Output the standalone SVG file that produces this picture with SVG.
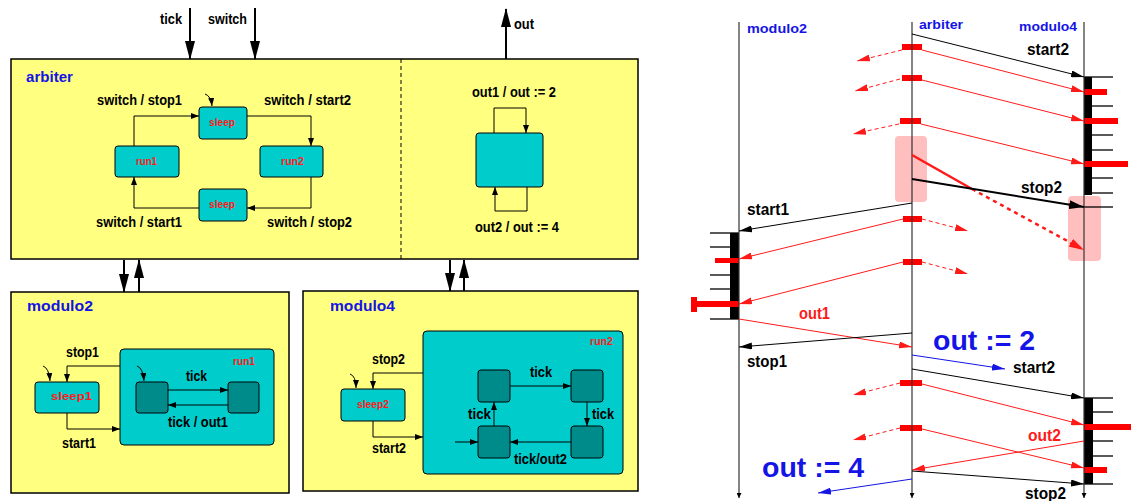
<svg xmlns="http://www.w3.org/2000/svg" width="1131" height="501" viewBox="0 0 1131 501">
<style>
text{font-family:"Liberation Sans",Arial,Helvetica,sans-serif;font-weight:bold;}
.t{font-size:14px;fill:#000}
.tb{font-size:14px;fill:#1414e6}
.ts{font-size:10px;fill:#ff1a1a}
.q{font-size:16px;fill:#000}
.qr{font-size:16px;fill:#ff1a1a}
.qb{font-size:28px;fill:#1414e6}
.box{fill:#ffff80;stroke:#000;stroke-width:1.5}
.st{fill:#00cccc;stroke:#000;stroke-width:1}
.in{fill:#008b8b;stroke:#000;stroke-width:1}
.tr{fill:none;stroke:#000;stroke-width:1}
.thick{fill:none;stroke:#000;stroke-width:2}
.ll{stroke:#333;stroke-width:1.2}
.m{stroke:#000;stroke-width:1}
.mr{stroke:#ff1a1a;stroke-width:1}
.mrd{stroke:#ff1a1a;stroke-width:1;stroke-dasharray:4 3}
.mb{stroke:#1414e6;stroke-width:1}
.tk{stroke:#000;stroke-width:1.3}
.rb{fill:#ff0000}
.pink{fill:#ffbfbf}
</style>
<defs>
<marker id="a" markerUnits="userSpaceOnUse" markerWidth="8" markerHeight="6" refX="8" refY="3" orient="auto"><path d="M0,0 L8,3 L0,6z" fill="#000"/></marker>
<marker id="big" markerUnits="userSpaceOnUse" markerWidth="19" markerHeight="10" refX="18" refY="5" orient="auto"><path d="M0,0 L19,5 L0,10z" fill="#000"/></marker>
<marker id="sk" markerUnits="userSpaceOnUse" markerWidth="13" markerHeight="7" refX="13" refY="3.5" orient="auto"><path d="M0,0 L13,3.5 L0,7z" fill="#000"/></marker>
<marker id="sr" markerUnits="userSpaceOnUse" markerWidth="13" markerHeight="7" refX="13" refY="3.5" orient="auto"><path d="M0,0 L13,3.5 L0,7z" fill="#ff1a1a"/></marker>
<marker id="sbl" markerUnits="userSpaceOnUse" markerWidth="13" markerHeight="7" refX="13" refY="3.5" orient="auto"><path d="M0,0 L13,3.5 L0,7z" fill="#1414e6"/></marker>
<marker id="sk2" markerUnits="userSpaceOnUse" markerWidth="15" markerHeight="9" refX="15" refY="4.5" orient="auto"><path d="M0,0 L15,4.5 L0,9z" fill="#000"/></marker>
<marker id="sr2" markerUnits="userSpaceOnUse" markerWidth="15" markerHeight="9" refX="15" refY="4.5" orient="auto"><path d="M0,0 L15,4.5 L0,9z" fill="#ff1a1a"/></marker>
<marker id="le" markerUnits="userSpaceOnUse" markerWidth="5" markerHeight="5" refX="5" refY="2.5" orient="auto"><path d="M0,0 L5,2.5 L0,5z" fill="#000"/></marker>
</defs>

<!-- ===== Statechart part ===== -->
<g id="arbiter">
<rect class="box" x="11" y="59" width="627" height="200"/>
<line x1="401" y1="59" x2="401" y2="259" stroke="#000" stroke-width="1" stroke-dasharray="4 3"/>
<text class="tb" x="26" y="82" textLength="47" lengthAdjust="spacingAndGlyphs">arbiter</text>
<g id="arb-sleep-top"><rect class="st" x="199" y="107" width="48" height="32" rx="3"/><text class="ts" x="209" y="126" textLength="26" lengthAdjust="spacingAndGlyphs">sleep</text></g>
<g id="arb-run1"><rect class="st" x="115" y="146" width="64" height="31" rx="3"/><text class="ts" x="136" y="165" textLength="21" lengthAdjust="spacingAndGlyphs">run1</text></g>
<g id="arb-run2"><rect class="st" x="260" y="146" width="63" height="31" rx="3"/><text class="ts" x="281" y="165" textLength="23" lengthAdjust="spacingAndGlyphs">run2</text></g>
<g id="arb-sleep-bottom"><rect class="st" x="199" y="189" width="48" height="32" rx="3"/><text class="ts" x="209" y="208" textLength="26" lengthAdjust="spacingAndGlyphs">sleep</text></g>
<g id="arb-out"><rect class="st" x="476" y="133" width="67" height="54" rx="3"/></g>
</g>

<g id="modulo2">
<rect class="box" x="11" y="292" width="278" height="201"/>
<text class="tb" x="27" y="311" textLength="66" lengthAdjust="spacingAndGlyphs">modulo2</text>
<g id="m2-run1"><rect class="st" x="120" y="349" width="154" height="96" rx="4"/><text class="ts" x="233" y="365" textLength="22" lengthAdjust="spacingAndGlyphs">run1</text></g>
<g id="m2-sleep1"><rect class="st" x="35" y="382" width="64" height="31" rx="3"/><text class="ts" x="51" y="400" textLength="41" lengthAdjust="spacingAndGlyphs">sleep1</text></g>
<g id="m2-a"><rect class="in" x="136" y="382" width="32" height="31" rx="3"/></g>
<g id="m2-b"><rect class="in" x="228" y="382" width="31" height="31" rx="3"/></g>
</g>

<g id="modulo4">
<rect class="box" x="303" y="291" width="335" height="200"/>
<text class="tb" x="330" y="311" textLength="65" lengthAdjust="spacingAndGlyphs">modulo4</text>
<g id="m4-run2"><rect class="st" x="423" y="331" width="200" height="143" rx="4"/><text class="ts" x="590" y="345" textLength="23" lengthAdjust="spacingAndGlyphs">run2</text></g>
<g id="m4-sleep2"><rect class="st" x="341" y="389" width="64" height="32" rx="3"/><text class="ts" x="357" y="408" textLength="32" lengthAdjust="spacingAndGlyphs">sleep2</text></g>
<g id="m4-tl"><rect class="in" x="478" y="370" width="32" height="32" rx="3"/></g>
<g id="m4-tr"><rect class="in" x="571" y="370" width="32" height="32" rx="3"/></g>
<g id="m4-bl"><rect class="in" x="478" y="426" width="32" height="32" rx="3"/></g>
<g id="m4-br"><rect class="in" x="571" y="426" width="32" height="32" rx="3"/></g>
</g>

<g id="connectors">
<!-- inputs / outputs -->
<line class="thick" x1="190" y1="8" x2="190" y2="59" marker-end="url(#big)"/>
<line class="thick" x1="255" y1="8" x2="255" y2="59" marker-end="url(#big)"/>
<line class="thick" x1="506" y1="59" x2="506" y2="9" marker-end="url(#big)"/>
<text class="t" x="160" y="24" textLength="22" lengthAdjust="spacingAndGlyphs">tick</text>
<text class="t" x="208" y="24" textLength="39" lengthAdjust="spacingAndGlyphs">switch</text>
<text class="t" x="514" y="29" textLength="20" lengthAdjust="spacingAndGlyphs">out</text>
<!-- arbiter <-> modules -->
<line class="thick" x1="124" y1="260" x2="124" y2="292" marker-end="url(#big)"/>
<line class="thick" x1="139" y1="292" x2="139" y2="260" marker-end="url(#big)"/>
<line class="thick" x1="450" y1="260" x2="450" y2="291" marker-end="url(#big)"/>
<line class="thick" x1="464" y1="291" x2="464" y2="260" marker-end="url(#big)"/>
<!-- arbiter transitions -->
<path class="tr" d="M205,94 Q211,96 212,106" marker-end="url(#a)"/>
<path class="tr" d="M134,146 V116 H199" marker-end="url(#a)"/>
<path class="tr" d="M247,116 H311 V146" marker-end="url(#a)"/>
<path class="tr" d="M311,177 V208 H247" marker-end="url(#a)"/>
<path class="tr" d="M199,208 H134 V177" marker-end="url(#a)"/>
<text class="t" x="97" y="105" textLength="85" lengthAdjust="spacingAndGlyphs">switch / stop1</text>
<text class="t" x="264" y="105" textLength="87" lengthAdjust="spacingAndGlyphs">switch / start2</text>
<text class="t" x="96" y="227" textLength="86" lengthAdjust="spacingAndGlyphs">switch / start1</text>
<text class="t" x="267" y="227" textLength="85" lengthAdjust="spacingAndGlyphs">switch / stop2</text>
<path class="tr" d="M494,133 V108 H526 V133" marker-end="url(#a)"/>
<path class="tr" d="M527,187 V211 H495 V187" marker-end="url(#a)"/>
<text class="t" x="472" y="97" textLength="84" lengthAdjust="spacingAndGlyphs">out1 / out := 2</text>
<text class="t" x="475" y="232" textLength="84" lengthAdjust="spacingAndGlyphs">out2 / out := 4</text>
<!-- modulo2 transitions -->
<path class="tr" d="M43,366 Q49,368 50,381" marker-end="url(#a)"/>
<path class="tr" d="M137,366 Q143,368 144,381" marker-end="url(#a)"/>
<path class="tr" d="M120,366 H67 V382" marker-end="url(#a)"/>
<path class="tr" d="M67,413 V429 H120" marker-end="url(#a)"/>
<line class="tr" x1="168" y1="390" x2="228" y2="390" marker-end="url(#a)"/>
<line class="tr" x1="228" y1="405" x2="168" y2="405" marker-end="url(#a)"/>
<text class="t" x="66" y="357" textLength="33" lengthAdjust="spacingAndGlyphs">stop1</text>
<text class="t" x="62" y="448" textLength="34" lengthAdjust="spacingAndGlyphs">start1</text>
<text class="t" x="186" y="381" textLength="21" lengthAdjust="spacingAndGlyphs">tick</text>
<text class="t" x="168" y="427" textLength="60" lengthAdjust="spacingAndGlyphs">tick / out1</text>
<!-- modulo4 transitions -->
<path class="tr" d="M350,374 Q356,376 356,388" marker-end="url(#a)"/>
<path class="tr" d="M423,373 H373 V389" marker-end="url(#a)"/>
<path class="tr" d="M373,421 V437 H423" marker-end="url(#a)"/>
<line class="tr" x1="510" y1="386" x2="571" y2="386" marker-end="url(#a)"/>
<line class="tr" x1="587" y1="402" x2="587" y2="426" marker-end="url(#a)"/>
<line class="tr" x1="571" y1="442" x2="510" y2="442" marker-end="url(#a)"/>
<line class="tr" x1="494" y1="426" x2="494" y2="402" marker-end="url(#a)"/>
<line class="tr" x1="455" y1="442" x2="478" y2="442" marker-end="url(#a)"/>
<text class="t" x="372" y="364" textLength="33" lengthAdjust="spacingAndGlyphs">stop2</text>
<text class="t" x="372" y="453" textLength="34" lengthAdjust="spacingAndGlyphs">start2</text>
<text class="t" x="530" y="377" textLength="22" lengthAdjust="spacingAndGlyphs">tick</text>
<text class="t" x="592" y="419" textLength="22" lengthAdjust="spacingAndGlyphs">tick</text>
<text class="t" x="468" y="419" textLength="23" lengthAdjust="spacingAndGlyphs">tick</text>
<text class="t" x="514" y="464" textLength="53" lengthAdjust="spacingAndGlyphs">tick/out2</text>
</g>

<!-- ===== Sequence part ===== -->
<g id="seq-highlights">
<rect class="pink" x="895" y="136" width="32" height="66" rx="4"/>
<rect class="pink" x="1068" y="196" width="33" height="65" rx="4"/>
</g>

<g id="seq-activations">
<line class="tk" x1="1084" y1="77" x2="1113" y2="77"/>
<line class="tk" x1="1084" y1="106" x2="1113" y2="106"/>
<line class="tk" x1="1084" y1="135" x2="1113" y2="135"/>
<line class="tk" x1="1084" y1="150" x2="1113" y2="150"/>
<line class="tk" x1="1084" y1="178" x2="1113" y2="178"/>
<line class="tk" x1="1084" y1="193" x2="1113" y2="193"/>
<line class="tk" x1="1084" y1="207" x2="1113" y2="207"/>
<rect x="1084" y="77" width="8" height="118" fill="#000"/>
<rect class="rb" x="1084" y="89" width="23" height="6"/>
<rect class="rb" x="1084" y="118" width="34" height="6"/>
<rect class="rb" x="1084" y="161" width="44" height="6"/>

<line class="tk" x1="710" y1="233" x2="739" y2="233"/>
<line class="tk" x1="710" y1="247" x2="739" y2="247"/>
<line class="tk" x1="710" y1="275" x2="739" y2="275"/>
<line class="tk" x1="710" y1="289" x2="739" y2="289"/>
<line class="tk" x1="710" y1="319" x2="739" y2="319"/>
<rect x="730" y="233" width="9" height="86" fill="#000"/>
<rect class="rb" x="715" y="258" width="24" height="5"/>
<rect class="rb" x="692" y="301" width="47" height="6"/>
<rect class="rb" x="691" y="297" width="6" height="15"/>

<line class="tk" x1="1084" y1="398" x2="1113" y2="398"/>
<line class="tk" x1="1084" y1="412" x2="1113" y2="412"/>
<line class="tk" x1="1084" y1="441" x2="1113" y2="441"/>
<line class="tk" x1="1084" y1="456" x2="1113" y2="456"/>
<line class="tk" x1="1084" y1="484" x2="1113" y2="484"/>
<rect x="1084" y="398" width="9" height="86" fill="#000"/>
<rect class="rb" x="1084" y="424" width="47" height="6"/>
<rect class="rb" x="1084" y="467" width="23" height="6"/>

<rect class="rb" x="902" y="44" width="20" height="6"/>
<rect class="rb" x="902" y="75" width="20" height="6"/>
<rect class="rb" x="900" y="118" width="21" height="6"/>
<rect class="rb" x="903" y="216" width="19" height="6"/>
<rect class="rb" x="903" y="259" width="19" height="6"/>
<rect class="rb" x="900" y="380" width="22" height="6"/>
<rect class="rb" x="900" y="425" width="22" height="6"/>
</g>

<g id="seq-lifelines">
<line class="ll" x1="739" y1="22" x2="739" y2="498" marker-end="url(#le)"/>
<line class="ll" x1="912" y1="22" x2="912" y2="498" marker-end="url(#le)"/>
<line class="ll" x1="1084" y1="22" x2="1084" y2="498" marker-end="url(#le)"/>
<text class="tb" style="font-size:13px" x="747" y="33" textLength="60" lengthAdjust="spacingAndGlyphs">modulo2</text>
<text class="tb" style="font-size:13px" x="919" y="29" textLength="44" lengthAdjust="spacingAndGlyphs">arbiter</text>
<text class="tb" style="font-size:13px" x="1019" y="31" textLength="58" lengthAdjust="spacingAndGlyphs">modulo4</text>
</g>

<g id="seq-messages">
<line class="m" x1="912" y1="34" x2="1084" y2="77" marker-end="url(#sk)"/>
<text class="q" x="1027" y="55" textLength="42" lengthAdjust="spacingAndGlyphs">start2</text>
<line class="mr" x1="922" y1="50" x2="1084" y2="92" marker-end="url(#sr)"/>
<line class="mr" x1="922" y1="80" x2="1084" y2="121" marker-end="url(#sr)"/>
<line class="mr" x1="921" y1="124" x2="1084" y2="164" marker-end="url(#sr)"/>
<line class="mrd" x1="902" y1="50" x2="857" y2="61" marker-end="url(#sr)"/>
<line class="mrd" x1="900" y1="79" x2="855" y2="91" marker-end="url(#sr)"/>
<line class="mrd" x1="899" y1="124" x2="853" y2="134" marker-end="url(#sr)"/>

<line x1="912" y1="155" x2="972" y2="189" stroke="#ff1a1a" stroke-width="2.5"/>
<line x1="972" y1="189" x2="1084" y2="250" stroke="#ff1a1a" stroke-width="2.5" stroke-dasharray="4 4" marker-end="url(#sr2)"/>
<line x1="912" y1="179" x2="1084" y2="207" stroke="#000" stroke-width="2" marker-end="url(#sk2)"/>
<text class="q" x="1021" y="193" textLength="41" lengthAdjust="spacingAndGlyphs">stop2</text>

<line class="m" x1="912" y1="203" x2="739" y2="231" marker-end="url(#sk)"/>
<text class="q" x="747" y="215" textLength="42" lengthAdjust="spacingAndGlyphs">start1</text>
<line class="mr" x1="903" y1="219" x2="739" y2="259" marker-end="url(#sr)"/>
<line class="mr" x1="903" y1="262" x2="739" y2="304" marker-end="url(#sr)"/>
<line class="mrd" x1="922" y1="219" x2="968" y2="231" marker-end="url(#sr)"/>
<line class="mrd" x1="922" y1="262" x2="968" y2="274" marker-end="url(#sr)"/>

<line class="mr" x1="739" y1="319" x2="912" y2="347" marker-end="url(#sr)"/>
<text class="qr" x="799" y="319" textLength="31" lengthAdjust="spacingAndGlyphs">out1</text>
<line class="m" x1="912" y1="333" x2="739" y2="347" marker-end="url(#sk)"/>
<text class="q" x="747" y="367" textLength="40" lengthAdjust="spacingAndGlyphs">stop1</text>
<text class="qb" x="933" y="350" textLength="102" lengthAdjust="spacingAndGlyphs">out := 2</text>
<line class="mb" x1="912" y1="355" x2="1005" y2="369" marker-end="url(#sbl)"/>
<text class="q" x="1013" y="373" textLength="42" lengthAdjust="spacingAndGlyphs">start2</text>

<line class="m" x1="912" y1="369" x2="1084" y2="398" marker-end="url(#sk)"/>
<line class="mr" x1="922" y1="384" x2="1084" y2="425" marker-end="url(#sr)"/>
<line class="mr" x1="922" y1="429" x2="1084" y2="468" marker-end="url(#sr)"/>
<line class="mrd" x1="900" y1="383" x2="853" y2="395" marker-end="url(#sr)"/>
<line class="mrd" x1="900" y1="428" x2="853" y2="440" marker-end="url(#sr)"/>
<line class="mr" x1="1084" y1="441" x2="912" y2="470" marker-end="url(#sr)"/>
<text class="qr" x="1028" y="441" textLength="33" lengthAdjust="spacingAndGlyphs">out2</text>
<line class="m" x1="912" y1="471" x2="1084" y2="484" marker-end="url(#sk)"/>
<text class="q" x="1025" y="499" textLength="41" lengthAdjust="spacingAndGlyphs">stop2</text>
<text class="qb" x="762" y="477" textLength="102" lengthAdjust="spacingAndGlyphs">out := 4</text>
<line class="mb" x1="912" y1="479" x2="818" y2="493" marker-end="url(#sbl)"/>
</g>
</svg>
